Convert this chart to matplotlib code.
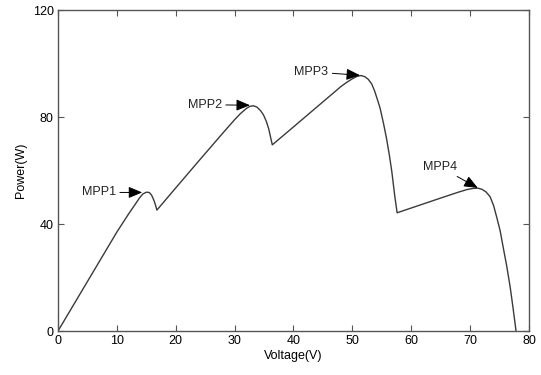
import matplotlib
matplotlib.use('Agg')
import matplotlib.pyplot as plt

# P-V curve of a partially shaded PV array (four local maxima)
voltage = [0, 5, 10, 12, 13, 13.8, 14.4, 15, 15.5, 15.9, 16.3, 16.6, 16.8,
           20, 24, 28, 30, 31, 32, 32.6, 33.2, 33.8, 34.4, 34.9, 35.4, 35.8,
           36.1, 36.4,
           40, 44, 47, 48, 49, 50, 50.8, 51.5, 52.1, 52.7, 53.3, 53.8, 54.3,
           54.7, 55.3, 55.8, 56.3, 56.7, 57.2, 57.6,
           61.5, 65, 68, 69.5, 70.5, 71.3, 72, 72.7, 73.4, 74, 74.5, 75.1,
           75.6, 76.2, 76.8, 77.3, 77.8]
power = [0, 18.5, 37, 43.8, 47, 49.6, 51.2, 51.9, 51.8, 50.8, 48.8, 46.8, 45.2,
         53.5, 63.8, 74, 79, 81.3, 83.2, 84, 84.2, 83.7, 82.4, 80.8, 78.3, 75.5,
         72.5, 69.6,
         76.3, 83.8, 89.4, 91.3, 92.9, 94.3, 95.2, 95.5, 95.1, 94.1, 92.3, 89.6,
         86.2, 83.4, 77.5, 72, 65.5, 59.6, 50.5, 44.2,
         47.1, 49.7, 51.9, 52.9, 53.3, 53.4, 53.0, 52.0, 50.2, 46.8, 42.7, 37.5,
         31.5, 24.5, 16.5, 8.5, 0]

mpp_labels = ['MPP1', 'MPP2', 'MPP3', 'MPP4']
mpp_points = [(14.3, 51.8), (32.6, 84.4), (51.3, 95.6), (71.3, 53.5)]
label_pos = [(9.8, 51.8), (27.8, 84.6), (45.9, 96.9), (64.9, 61.3)]

plt.rcParams['font.family'] = ['Liberation Sans', 'DejaVu Sans']
plt.rcParams['font.size'] = 9

fig = plt.figure(figsize=(5.41, 3.75), dpi=100)
ax = fig.add_axes([0.1072, 0.1173, 0.8706, 0.856])

ax.plot(voltage, power, color='#3a3a3a', lw=1.0)

for name, tip, pos in zip(mpp_labels, mpp_points, label_pos):
    ha = 'center' if name == 'MPP4' else 'right'
    ax.annotate(name, xy=tip, xytext=pos, ha=ha, va='center',
                color='#222222',
                arrowprops=dict(arrowstyle='-|>,head_length=0.6,head_width=0.25',
                                color='black', lw=0.7,
                                mutation_scale=14, shrinkA=1, shrinkB=0))

ax.set_xlim(0, 80)
ax.set_ylim(0, 120)
ax.set_xticks(range(0, 81, 10))
ax.set_yticks([0, 40, 80, 120])
ax.set_xlabel('Voltage(V)', labelpad=2)
ax.set_ylabel('Power(W)', labelpad=4)

for s in ax.spines.values():
    s.set_color('#555555')
    s.set_linewidth(1.0)
ax.tick_params(direction='in', length=4, width=0.8, color='#555555',
               top=True, right=True, pad=3)

fig.savefig('out.png', dpi=100)
